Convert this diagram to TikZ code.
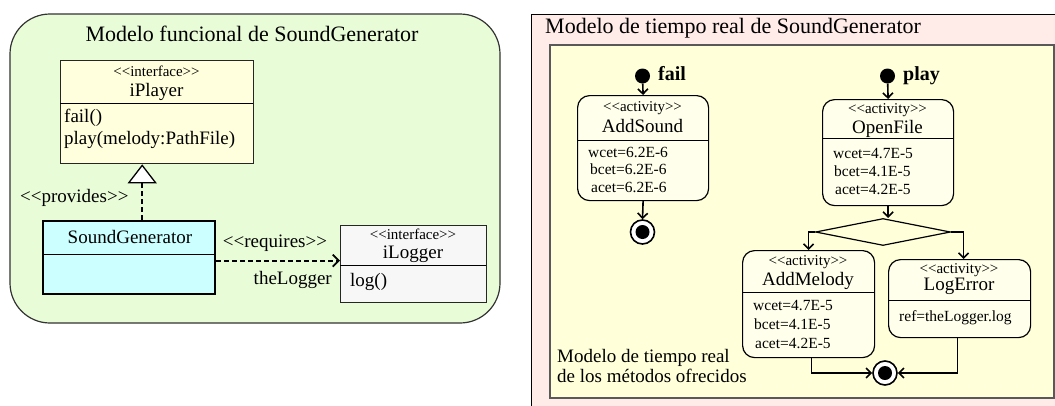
\documentclass[tikz,border=0pt]{standalone}
\usepackage{fontspec}
\setmainfont{Liberation Serif}
\usetikzlibrary{arrows.meta,shapes.geometric}

\definecolor{panelgreen}{RGB}{233,252,216}
\definecolor{classyellow}{RGB}{255,255,221}
\definecolor{classcyan}{RGB}{204,255,255}
\definecolor{classgray}{RGB}{247,247,247}
\definecolor{panelpink}{RGB}{255,236,232}
\definecolor{regionyellow}{RGB}{255,255,218}
\definecolor{actfill}{RGB}{255,255,236}

% stereotype guillemets typed as two separate angle brackets
\newcommand\stereotype[1]{<\kern0pt<#1>\kern0pt>}

\tikzset{
  classbox/.style={draw=black!85, line width=1.3pt, anchor=north west, inner sep=0pt},
  activitybox/.style={draw=black, rounded corners=12pt, line width=1.2pt, fill=actfill, anchor=north west, inner sep=0pt},
  divider/.style={line width=1pt},
  stereo/.style={font=\fontsize{15}{15}\selectfont, anchor=base, inner sep=0pt},
  cname/.style={font=\fontsize{19}{19}\selectfont, anchor=base, inner sep=0pt},
  member/.style={font=\fontsize{19}{19}\selectfont, anchor=base west, inner sep=0pt},
  attr/.style={font=\fontsize{15.5}{15.5}\selectfont, anchor=base west, inner sep=0pt},
  paneltitle/.style={font=\fontsize{22}{22}\selectfont, inner sep=0pt},
  flow/.style={line width=1.6pt, -{Straight Barb[length=5pt,width=10pt]}},
  dep/.style={line width=1.8pt, dash pattern=on 5pt off 3pt},
  initial/.style={circle, fill=black, minimum size=15pt, inner sep=0pt},
  final/.style={circle, draw=black, line width=1.6pt, fill=white, minimum size=24pt, inner sep=0pt,
    path picture={\fill[black] (path picture bounding box.center) circle (7pt);}},
  trigger/.style={font=\bfseries\fontsize{20}{20}\selectfont, anchor=base west, inner sep=0pt},
}

\begin{document}
\begin{tikzpicture}[x=1pt,y=-1pt]
\useasboundingbox (0,0) rectangle (1055,405);
\clip (0,0) rectangle (1055,405);

% ---------------- functional model ----------------
\draw[fill=panelgreen, draw=black!80, line width=1.2pt, rounded corners=40pt] (10,14) rectangle (500,323);
\node[paneltitle, anchor=base] (ftitle) at (252,41) {Modelo funcional de SoundGenerator};

% iPlayer interface
\node[classbox, fill=classyellow, minimum width=193pt, minimum height=103pt] (iplayer) at (60,60) {};
\draw[divider] (60,103) -- (253,103);
\node[stereo] (iplayer-st) at (156.5,76) {\stereotype{interface}};
\node[cname] (iplayer-name) at (156.5,96) {iPlayer};
\node[member] (iplayer-fail) at (64,122) {fail()};
\node[member] (iplayer-play) at (64,144) {play(melody:PathFile)};

% SoundGenerator class
\node[classbox, draw=black, line width=2.4pt, fill=classcyan, minimum width=172pt, minimum height=73pt] (sg) at (42,220) {};
\draw[divider] (42,254) -- (214,254);
\node[cname] (sg-name) at (130,243) {SoundGenerator};

% iLogger interface
\node[classbox, fill=classgray, minimum width=146pt, minimum height=77pt] (ilogger) at (340,225) {};
\draw[divider] (340,265) -- (486,265);
\node[stereo] (ilogger-st) at (413,239) {\stereotype{interface}};
\node[cname] (ilogger-name) at (413,258) {iLogger};
\node[member] (ilogger-log) at (350,286) {log()};

% provides / requires
\draw[dep, -{Triangle[open, fill=white, length=19pt, width=29pt, line width=1.3pt]}]
  ([xshift=13pt]sg.north) -- ([xshift=13pt]sg.north |- iplayer.south);
\node[member, anchor=base west] (provides) at (20,202) {\stereotype{provides}};
\draw[dep, -{Straight Barb[length=6pt, width=12pt, line width=1.8pt]}]
  ([yshift=-3pt]sg.east) -- ([yshift=-3pt]sg.east -| ilogger.west);
\node[member, anchor=base] (requires) at (275,247) {\stereotype{requires}};
\node[member, anchor=base east] (role) at (332,284) {theLogger};

% ---------------- real-time model ----------------
\draw[fill=panelpink, draw=black, line width=1pt] (531,14) rectangle (1080,420);
\node[paneltitle, anchor=base west] (rtitle) at (545,33) {Modelo de tiempo real de SoundGenerator};
\draw[fill=regionyellow, draw=black!65, line width=1.2pt] (550,45) rectangle (1054,398);

% AddSound
\node[activitybox, minimum width=131pt, minimum height=105pt] (addsound) at (577,95) {};
\draw[divider] (577,140) -- (708,140);
\node[stereo] (addsound-st) at (642.5,111) {\stereotype{activity}};
\node[cname] (addsound-name) at (642.5,132) {AddSound};
\node[attr] (addsound-w) at (588,157) {wcet=6.2E-6};
\node[attr] (addsound-b) at (590,174) {bcet=6.2E-6};
\node[attr] (addsound-a) at (591,192) {acet=6.2E-6};

% OpenFile
\node[activitybox, minimum width=131pt, minimum height=106pt] (openfile) at (822,99) {};
\draw[divider] (822,138) -- (953,138);
\node[stereo] (openfile-st) at (887.5,113) {\stereotype{activity}};
\node[cname] (openfile-name) at (887.5,133) {OpenFile};
\node[attr] (openfile-w) at (833,158) {wcet=4.7E-5};
\node[attr] (openfile-b) at (834,176) {bcet=4.1E-5};
\node[attr] (openfile-a) at (835,194) {acet=4.2E-5};

% AddMelody
\node[activitybox, minimum width=132pt, minimum height=107pt] (addmelody) at (742,250) {};
\draw[divider] (742,292) -- (874,292);
\node[stereo] (addmelody-st) at (808,265) {\stereotype{activity}};
\node[cname] (addmelody-name) at (808,285) {AddMelody};
\node[attr] (addmelody-w) at (753,310) {wcet=4.7E-5};
\node[attr] (addmelody-b) at (754,329) {bcet=4.1E-5};
\node[attr] (addmelody-a) at (755,348) {acet=4.2E-5};

% LogError
\node[activitybox, minimum width=142pt, minimum height=78pt] (logerror) at (888,259) {};
\draw[divider] (888,300) -- (1030,300);
\node[stereo] (logerror-st) at (959,273) {\stereotype{activity}};
\node[cname] (logerror-name) at (959,290) {LogError};
\node[attr] (logerror-ref) at (899,321) {ref=theLogger.log};

% initial, decision and final nodes
\node[initial] (failstart) at (642.5,76) {};
\node[trigger] (faillabel) at (658,80) {fail};
\node[initial] (playstart) at (887.5,76) {};
\node[trigger] (playlabel) at (903,80) {play};
\node[diamond, draw=black, line width=1.2pt, fill=regionyellow, minimum width=135pt, minimum height=27pt, inner sep=0pt] (decision) at (883,232) {};
\node[final] (failend) at (642.5,232) {};
\node[final] (playend) at (885,373) {};

% control flow
\draw[flow] (failstart) -- (addsound.north);
\draw[flow] (addsound.south) -- (failend.north);
\draw[flow] (playstart) -- (openfile.north);
\draw[flow] (openfile.south) -- (openfile.south |- decision.north);
\draw[flow] (decision.west) -| (addmelody.north);
\draw[flow] (decision.east) -| ([xshift=4pt]logerror.north);
\draw[flow] ([xshift=3pt]addmelody.south) |- (playend.west);
\draw[flow] ([xshift=-2pt]logerror.south) |- (playend.east);

\node[member, anchor=base west] (note1) at (557,362) {Modelo de tiempo real};
\node[member, anchor=base west] (note2) at (557,382) {de los métodos ofrecidos};
\end{tikzpicture}
\end{document}
